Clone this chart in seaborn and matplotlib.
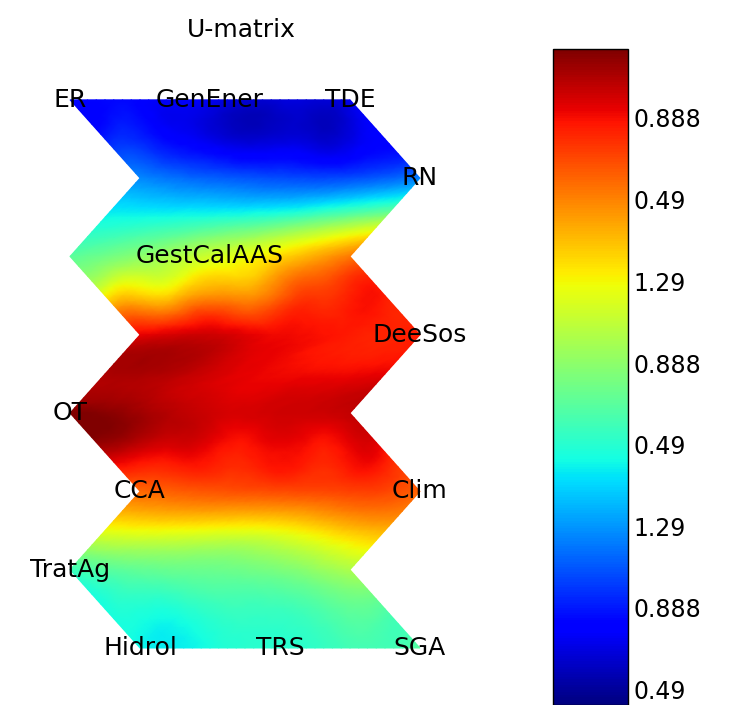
"""
U-matrix of an 8x3 hexagonal SOM with unit labels and a jet colour bar
"""

import numpy as np
import matplotlib
matplotlib.use('Agg')
import matplotlib.pyplot as plt
import matplotlib.tri as mtri
import seaborn as sns

# Data
TITLE = 'U-matrix'

# U-matrix values (2*8-1 rows x 2*3-1 cols), 0..1 of the colour scale
UMAT = [
    [0.14, 0.12, 0.10, 0.08, 0.10],
    [0.15, 0.12, 0.07, 0.07, 0.12],
    [0.26, 0.22, 0.20, 0.20, 0.25],
    [0.37, 0.38, 0.40, 0.45, 0.52],
    [0.46, 0.52, 0.60, 0.68, 0.78],
    [0.65, 0.70, 0.75, 0.85, 0.88],
    [0.91, 0.93, 0.90, 0.88, 0.88],
    [0.96, 0.95, 0.91, 0.90, 0.91],
    [1.00, 0.97, 0.93, 0.93, 0.94],
    [0.95, 0.91, 0.88, 0.88, 0.89],
    [0.80, 0.82, 0.83, 0.84, 0.80],
    [0.63, 0.64, 0.63, 0.67, 0.72],
    [0.42, 0.47, 0.48, 0.50, 0.56],
    [0.38, 0.39, 0.42, 0.44, 0.45],
    [0.37, 0.38, 0.40, 0.43, 0.46],
]

# labels and the map unit (row, col) they sit on
LABEL_NAMES = ['ER', 'GenEner', 'TDE', 'RN', 'GestCalAAS', 'DeeSos', 'OT',
               'CCA', 'Clim', 'TratAg', 'Hidrol', 'TRS', 'SGA']
LABEL_ROWS = [0, 0, 0, 1, 2, 3, 4, 5, 5, 6, 7, 7, 7]
LABEL_COLS = [0, 1, 2, 2, 1, 2, 0, 0, 2, 0, 0, 1, 2]

# colour bar ticks (bottom to top) and their labels
CBAR_TICKS = [0.023, 0.148, 0.272, 0.397, 0.521, 0.646, 0.771, 0.895]
CBAR_LABELS = ['0.49', '0.888', '1.29', '0.49', '0.888', '1.29', '0.49', '0.888']


def hex_triangulation(n_r, n_c):
    """Lattice coords of the U-matrix cells plus a row-to-row triangulation"""
    r = np.arange(n_r)[:, None]
    c = np.arange(n_c)[None, :]
    shift = np.where(r % 4 == 2, 0.5, 0.0) + np.where(r % 2 == 1, 0.25, 0.0)
    X = (c / 2 + shift).ravel()
    Y = np.broadcast_to(r / 2, (n_r, n_c)).ravel()

    idx = np.arange(n_r * n_c).reshape(n_r, n_c)
    tris = []
    for i in range(n_r - 1):
        for j in range(n_c - 1):
            a, b = idx[i, j], idx[i, j + 1]
            d, e = idx[i + 1, j], idx[i + 1, j + 1]
            tris.append([a, b, d])
            tris.append([b, e, d])
    return mtri.Triangulation(X, Y, np.array(tris))


def main():
    sns.set_theme(style='white')
    plt.rcParams['font.family'] = ['DejaVu Sans']
    plt.rcParams['text.color'] = 'black'

    umat = np.array(UMAT)
    tri = hex_triangulation(*umat.shape)

    # smooth shading like MATLAB's 'interp'
    refiner = mtri.UniformTriRefiner(tri)
    tri_fine, z_fine = refiner.refine_field(umat.ravel(), subdiv=3)

    # seaborn won't hand out jet, so take it from matplotlib
    jet = matplotlib.colormaps['jet']

    fig = plt.figure(figsize=(7.35, 7.05), dpi=100)
    ax = fig.add_axes([7 / 735, 10 / 705, 469 / 735, 650 / 705])

    mesh = ax.tripcolor(tri_fine, z_fine, shading='gouraud', cmap=jet, vmin=0, vmax=1)

    for name, row, col in zip(LABEL_NAMES, LABEL_ROWS, LABEL_COLS):
        ax.text(col + 0.5 * (row % 2), row, name, ha='center', va='center',
                fontsize=18, color='black')

    ax.set_xlim(-0.45, 2.9)
    ax.set_ylim(7.6, -0.70)
    ax.set_axis_off()
    ax.set_title(TITLE, fontsize=18, pad=6, color='black')

    # colour bar (runs off the bottom edge like the original)
    cax = fig.add_axes([553 / 735, 0.0, 75 / 735, 656 / 705])
    cb = fig.colorbar(mesh, cax=cax, ticks=CBAR_TICKS)
    cb.set_ticklabels(CBAR_LABELS)
    cb.outline.set_edgecolor('black')
    cb.outline.set_linewidth(1)
    cax.tick_params(direction='in', length=7, width=1, left=True, right=True,
                    labelsize=17, pad=4, colors='black')

    fig.savefig('out.png', dpi=100)
    plt.close(fig)


if __name__ == "__main__":
    main()
